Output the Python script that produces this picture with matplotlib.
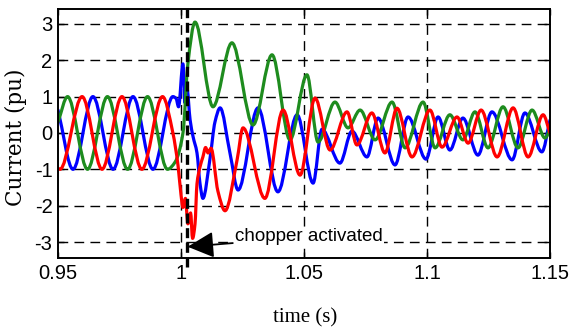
import numpy as np
import matplotlib
matplotlib.use("Agg")
import matplotlib.pyplot as plt
from matplotlib.path import Path
from matplotlib.patches import PathPatch

plt.rcParams['axes.unicode_minus'] = False

# ---- data (time in ms, current in pu), key points ----
green_t = [950.0, 953.9, 962.0, 970.1, 978.3, 986.4, 994.5, 997.6, 1000.8, 1002.8,
           1005.7, 1013.0, 1020.7, 1029.3, 1037.0, 1044.3, 1051.2, 1055.7, 1062.6,
           1067.9, 1072.8, 1078.9, 1085.8, 1091.1, 1098.4, 1103.3, 1109.3, 1114.6,
           1119.5, 1124.8, 1130.9, 1137.0, 1142.7, 1148.0, 1150.0]
green_i = [0.30, 1.0, -1.0, 1.0, -1.0, 1.0, -1.0, -0.8, 0.0, 1.9,
           3.05, 0.72, 2.48, 0.22, 2.15, -0.19, 1.6, -0.25, 0.85,
           0.14, 0.63, -0.19, 0.85, -0.41, 0.85, -0.41, 0.5, -0.19,
           0.58, -0.41, 0.72, -0.41, 0.63, -0.14, 0.1]

red_t = [950.0, 950.8, 959.8, 967.9, 976.0, 984.1, 992.5, 996.7, 998.8, 1000.0,
         1000.8, 1001.8, 1002.8, 1003.9, 1004.7, 1005.7, 1006.5, 1007.7, 1008.9,
         1010.0, 1011.0, 1012.2, 1015.0, 1017.9, 1022.8, 1025.2, 1034.1, 1041.5,
         1048.4, 1054.5, 1060.6, 1067.5, 1071.5, 1077.6, 1082.9, 1087.8, 1093.9,
         1101.2, 1106.1, 1112.2, 1116.7, 1122.0, 1128.5, 1135.0, 1141.1, 1147.2, 1150.0]
red_i = [-0.97, -1.0, 1.0, -1.0, 1.0, -1.0, 1.0, 0.0, -0.9, -1.7,
         -2.05, -1.8, -2.5, -2.2, -2.9, -2.5, -1.4, -0.94, -0.66,
         -0.4, -0.55, -0.42, -1.6, -2.14, -0.74, 0.14, -1.8, 0.63,
         -1.16, 0.96, -0.47, 0.58, -0.33, 0.55, -0.55, 0.68, -0.66,
         0.63, -0.39, 0.44, -0.28, 0.63, -0.66, 0.69, -0.66, 0.5, 0.0]

blue_t = [950.0, 956.1, 964.2, 972.4, 980.5, 988.6, 996.7, 998.0, 999.0, 1000.8,
          1001.6, 1002.4, 1003.7, 1004.9, 1006.5, 1007.7, 1008.9, 1011.8, 1013.8,
          1015.9, 1019.9, 1023.2, 1031.3, 1039.4, 1047.2, 1053.7, 1057.3, 1064.6,
          1069.5, 1075.6, 1080.1, 1087.0, 1092.3, 1099.6, 1104.5, 1109.3, 1114.6,
          1120.7, 1126.4, 1134.6, 1139.8, 1146.7, 1150.0]
blue_i = [0.63, -1.0, 1.0, -1.0, 1.0, -1.0, 1.0, 0.95, 0.72, 1.9,
          0.83, 1.24, 0.36, -0.1, -0.55, -1.38, -1.8, -0.7, 0.3,
          0.69, -0.55, -1.57, 0.69, -1.62, 0.5, -1.38, 0.1, -0.83,
          0.05, -0.66, 0.41, -0.88, 0.44, -0.72, 0.44, -0.47, 0.41,
          -0.61, 0.58, -0.74, 0.55, -0.52, 0.35]

x_ticks = [0.95, 1.0, 1.05, 1.1, 1.15]
x_ticklabels = ['0.95', '1', '1.05', '1.1', '1.15']
y_ticks = [-3, -2, -1, 0, 1, 2, 3]
y_ticklabels = ['-3', '-2', '-1', '0', '1', '2', '3']
chopper_t = 1.0024
annot_text = 'chopper activated'


def smooth_path(x, y):
    """Monotone cubic (Fritsch-Carlson) curve through the points, as Bezier path."""
    x = np.asarray(x, float)
    y = np.asarray(y, float)
    h = np.diff(x)
    d = np.diff(y) / h
    m = np.zeros_like(y)
    m[0] = d[0]
    m[-1] = d[-1]
    for k in range(1, len(y) - 1):
        if d[k - 1] * d[k] <= 0:
            m[k] = 0.0
        else:
            w1 = 2 * h[k] + h[k - 1]
            w2 = h[k] + 2 * h[k - 1]
            m[k] = (w1 + w2) / (w1 / d[k - 1] + w2 / d[k])
    verts = [(x[0], y[0])]
    codes = [Path.MOVETO]
    for k in range(len(h)):
        verts += [(x[k] + h[k] / 3, y[k] + m[k] * h[k] / 3),
                  (x[k + 1] - h[k] / 3, y[k + 1] - m[k + 1] * h[k] / 3),
                  (x[k + 1], y[k + 1])]
        codes += [Path.CURVE4] * 3
    return Path(verts, codes)


fig = plt.figure(figsize=(5.7, 3.32), dpi=100)
ax = fig.add_axes([58 / 570, 1 - 258 / 332, 492 / 570, 249 / 332])
ax.set_xlim(0.95, 1.15)
ax.set_ylim(-3.44, 3.41)

series = [(blue_t, blue_i, '#0000ff', 2), (green_t, green_i, '#1e8c1e', 3),
          (red_t, red_i, '#ff0000', 4)]
for t, i, c, z in series:
    p = smooth_path(np.asarray(t) / 1000.0, i)
    ax.add_patch(PathPatch(p, fill=False, edgecolor=c, lw=2.3, zorder=z,
                           capstyle='round', joinstyle='round'))

# grid
for yv in y_ticks:
    ax.axhline(yv, color='black', lw=1.0, dashes=(7, 4.5), zorder=1)
for xv in x_ticks[1:-1]:
    ax.axvline(xv, color='black', lw=1.0, dashes=(7, 4.5), zorder=1)

# chopper line
ax.plot([chopper_t, chopper_t], [-3.68, 3.41], color='black', lw=2.4,
        dashes=(3.0, 1.4), clip_on=False, zorder=6)

ax.annotate(annot_text, xy=(chopper_t + 0.0003, -3.13), xytext=(1.0220, -2.86),
            fontsize=13.5, family='Liberation Sans', va='center', ha='left',
            bbox=dict(boxstyle='square,pad=0.05', fc='white', ec='none'),
            arrowprops=dict(arrowstyle='-|>,head_length=0.9,head_width=0.45',
                            color='black', lw=1.3, mutation_scale=18,
                            shrinkA=1, shrinkB=0),
            zorder=7)

ax.set_xticks(x_ticks)
ax.set_xticklabels(x_ticklabels)
ax.set_yticks(y_ticks)
ax.set_yticklabels(y_ticklabels)
ax.tick_params(direction='in', top=True, right=True, length=4, width=1,
               labelsize=14.5)
ax.tick_params(axis='x', pad=4)
ax.tick_params(axis='y', pad=4)
for lab in ax.get_xticklabels() + ax.get_yticklabels():
    lab.set_family('Liberation Sans')
for s in ax.spines.values():
    s.set_linewidth(1.4)
    s.set_zorder(8)

fig.text(16 / 570, 1 - 137 / 332, 'Current (pu)', rotation=90, ha='center',
         va='center', fontsize=15.5, family='DejaVu Serif')
fig.text(305 / 570, 1 - 318 / 332, 'time (s)', ha='center', va='center',
         fontsize=15, family='Liberation Serif')

fig.savefig('out.png', dpi=100)
